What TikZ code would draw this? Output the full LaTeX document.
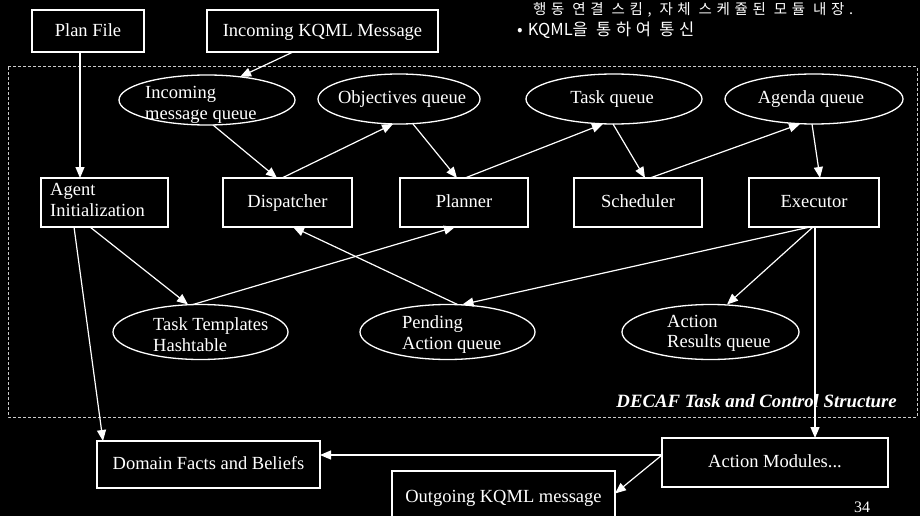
\documentclass[tikz,border=0pt]{standalone}
\usepackage{fontspec}
\setmainfont{Liberation Serif}
\newfontfamily\krwide[LetterSpace=32]{Noto Sans CJK KR}
\newfontfamily\krfont{Noto Sans CJK KR}
\usetikzlibrary{arrows.meta,shapes.geometric}

\begin{document}
\begin{tikzpicture}[x=1pt,y=-1pt,
  every node/.style={text=white, font=\fontsize{18.5}{21}\selectfont},
  box/.style={draw=white, line width=1.2pt, rectangle, inner sep=0pt, outer sep=0pt,
    text height=12.5pt, text depth=2pt},
  oval/.style={draw=white, line width=1.3pt, ellipse, inner sep=0pt, outer sep=0pt},
  txt/.style={align=left, anchor=west, inner sep=0pt},
  lbl/.style={anchor=base, inner sep=0pt},
  arr/.style={white, line width=1.2pt, -{Triangle[length=11pt,width=9pt]}},
  frame/.style={draw=white!80!black, line width=1pt, densely dashed},
]
% page background
\fill[black] (0,0) rectangle (920,516);
\useasboundingbox (0,0) rectangle (920,516);

% notes at the top right
\node[txt, font=\krwide\fontsize{14.5}{17}\selectfont] (note1) at (533,10)
  {행동 연결 스킴, 자체 스케쥴된 모듈 내장.};
\node[txt, font=\krfont\fontsize{16.5}{18}\selectfont] (note2) at (517,30)
  {•\hspace{5pt}KQML{\addfontfeature{LetterSpace=28}을 통하여 통신}};

% outer frame of the task and control structure
\draw[frame] (8,67) rectangle (917,417);
\node[anchor=base east, inner sep=0pt, font=\bfseries\itshape\fontsize{18.8}{22}\selectfont] (decaf) at (897,407)
  {DECAF Task and Control Structure};

% input boxes
\node[box, minimum width=112pt, minimum height=42pt] (plan) at (88,31) {Plan File};
\node[box, minimum width=231pt, minimum height=42pt] (kqml) at (322.5,31) {Incoming KQML Message};

% upper queues
\node[oval, minimum width=176pt, minimum height=50pt] (iq) at (207,100) {};
\node[txt] (iqt) at (145,105) {Incoming\\message queue};
\node[oval, minimum width=162pt, minimum height=50pt] (oq) at (399,99) {};
\node[lbl] (oqt) at (402,104) {Objectives queue};
\node[oval, minimum width=176pt, minimum height=50pt] (tq) at (614,99) {};
\node[lbl] (tqt) at (612,104) {Task queue};
\node[oval, minimum width=178pt, minimum height=50pt] (aq) at (814,99) {};
\node[lbl] (aqt) at (811,104) {Agenda queue};

% processing components
\node[box, minimum width=127pt, minimum height=49pt] (init) at (104.5,202.5) {};
\node[txt] (initt) at (50,200) {Agent\\Initialization};
\node[box, minimum width=129pt, minimum height=49pt] (disp) at (287.5,202.5) {Dispatcher};
\node[box, minimum width=128pt, minimum height=49pt] (plnr) at (464,202.5) {Planner};
\node[box, minimum width=128pt, minimum height=49pt] (sched) at (638,202.5) {Scheduler};
\node[box, minimum width=130pt, minimum height=49pt] (exec) at (814,202.5) {Executor};

% lower queues
\node[oval, minimum width=175pt, minimum height=55pt] (tt) at (200.5,332) {};
\node[txt] (ttt) at (153,335) {Task Templates\\Hashtable};
\node[oval, minimum width=175pt, minimum height=55pt] (pa) at (447.5,332) {};
\node[txt] (pat) at (402,335) {Pending\\Action queue};
\node[oval, minimum width=177pt, minimum height=55pt] (ar) at (710.5,332) {};
\node[txt, font=\fontsize{18.5}{20}\selectfont] (art) at (667,333) {Action\\Results queue};

% outside boxes
\node[box, minimum width=223pt, minimum height=47pt] (dom) at (208.5,464.5) {Domain Facts and Beliefs};
\node[box, minimum width=223pt, minimum height=52pt] (out) at (503.5,497) {Outgoing KQML message};
\node[box, minimum width=226pt, minimum height=49pt] (mods) at (775,462.5) {Action Modules...};

% page number
\node[font=\fontsize{16}{18}\selectfont] (pnum) at (862,507) {34};

% connectors
\draw[arr] ([xshift=-29.5pt]kqml.south) -- (iq.35);
\draw[arr] ([xshift=-8pt]plan.south) -- ([xshift=-8pt]plan.south |- init.north);
\draw[arr] ([xshift=6pt]iq.south) -- ([xshift=-10.5pt]disp.north);
\draw[arr] ([xshift=-5.5pt]disp.north) -- ([xshift=-6pt]oq.south);
\draw[arr] ([xshift=14pt]oq.south) -- ([xshift=-7pt]plnr.north);
\draw[arr] ([xshift=1pt]plnr.north) -- ([xshift=-11pt]tq.south);
\draw[arr] ([xshift=-1pt]tq.south) -- ([xshift=7pt]sched.north);
\draw[arr] ([xshift=12pt]sched.north) -- ([xshift=-14pt]aq.south);
\draw[arr] ([xshift=-2pt]aq.south) -- ([xshift=6pt]exec.north);
\draw[arr] ([xshift=-14.5pt]init.south) -- ([xshift=-12.5pt]tt.north);
\draw[arr] ([xshift=-7.5pt]tt.north) -- ([xshift=-9pt]plnr.south);
\draw[arr] ([xshift=10pt]pa.north) -- ([xshift=5.5pt]disp.south);
\draw[arr] ([xshift=-4pt]exec.south) -- ([xshift=15pt]pa.north);
\draw[arr] ([xshift=-1pt]exec.south) -- ([xshift=16.5pt]ar.north);
\draw[arr] ([xshift=1pt]exec.south) -- ([xshift=1pt]exec.south |- mods.north);
\draw[arr] ([xshift=-30.5pt]init.south) -- ([xshift=-105.5pt]dom.north);
\draw[arr] ([yshift=7.5pt]mods.west) -- ([yshift=7.5pt]mods.west -| dom.east);
\draw[arr] ([yshift=7.5pt]mods.west) -- ([yshift=3.5pt]out.east);
\end{tikzpicture}
\end{document}
